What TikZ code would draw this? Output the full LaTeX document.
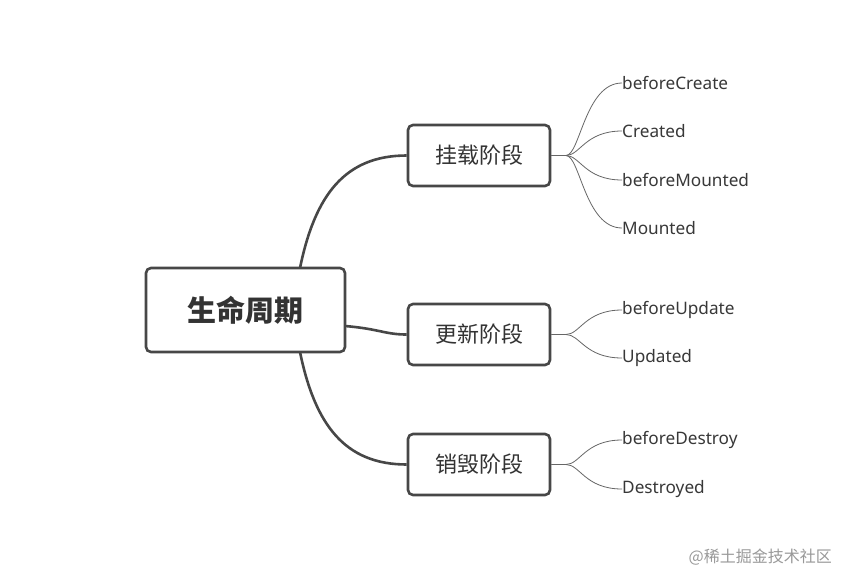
\documentclass[tikz,border=0pt]{standalone}
\usepackage{fontspec}
\setmainfont{Noto Sans}
\newfontfamily\cjk{Noto Sans CJK SC}
\begin{document}
\begin{tikzpicture}[x=1pt,y=-1pt,
  box/.style={draw=black!72,line width=2.6pt,rounded corners=5pt,fill=white,inner sep=0pt},
  main/.style={draw=black!72,line width=2.6pt},
  leafline/.style={draw=black!60,line width=0.8pt},
  leaf/.style={anchor=west,inner sep=0pt,font=\fontsize{17.2}{19}\selectfont,text=black!78}]
\useasboundingbox[fill=white] (0,0) rectangle (849,587);
\node[box,minimum width=199pt,minimum height=84pt,font=\cjk\bfseries\fontsize{29}{32}\selectfont,text=black!80] (root) at (245.5,310) {生命周期};
\node[box,minimum width=142pt,minimum height=61pt,font=\cjk\fontsize{22}{25}\selectfont,text=black!80] (m1) at (479,155.5) {挂载阶段};
\node[box,minimum width=142pt,minimum height=61pt,font=\cjk\fontsize{22}{25}\selectfont,text=black!80] (m2) at (479,334.5) {更新阶段};
\node[box,minimum width=142pt,minimum height=61pt,font=\cjk\fontsize{22}{25}\selectfont,text=black!80] (m3) at (479,464.5) {销毁阶段};
\coordinate (rt) at (300,268);
\coordinate (rb) at (300,352);
\coordinate (rm) at (345,326);
\draw[main] (rt) .. controls (315,195) and (345,155.5) .. (m1.west);
\draw[main] (rm) .. controls (380,329) and (385,334.5) .. (m2.west);
\draw[main] (rb) .. controls (315,425) and (345,464.5) .. (m3.west);
% leaves
\foreach \n/\y/\t in {a/83/beforeCreate,b/131/Created,c/180/beforeMounted,d/228/Mounted}{
  \node[leaf] (\n) at (622,\y) {\t};
  \draw[leafline] (m1.east) -- (566,155.5) .. controls (580,155.5) and (585,\y) .. (\n.west);
}
\foreach \n/\y/\t in {e/310/beforeUpdate,f/358/Updated}{
  \node[leaf] (\n) at (622,\y) {\t};
  \draw[leafline] (m2.east) -- (566,334.5) .. controls (580,334.5) and (585,\y) .. (\n.west);
}
\foreach \n/\y/\t in {g/440/beforeDestroy,h/489/Destroyed}{
  \node[leaf] (\n) at (622,\y) {\t};
  \draw[leafline] (m3.east) -- (566,464.5) .. controls (580,464.5) and (585,\y) .. (\n.west);
}
\node[anchor=east,inner sep=0pt,font=\cjk\fontsize{16}{18}\selectfont,text=black!40] (wm) at (832,557) {@稀土掘金技术社区};
\end{tikzpicture}
\end{document}
